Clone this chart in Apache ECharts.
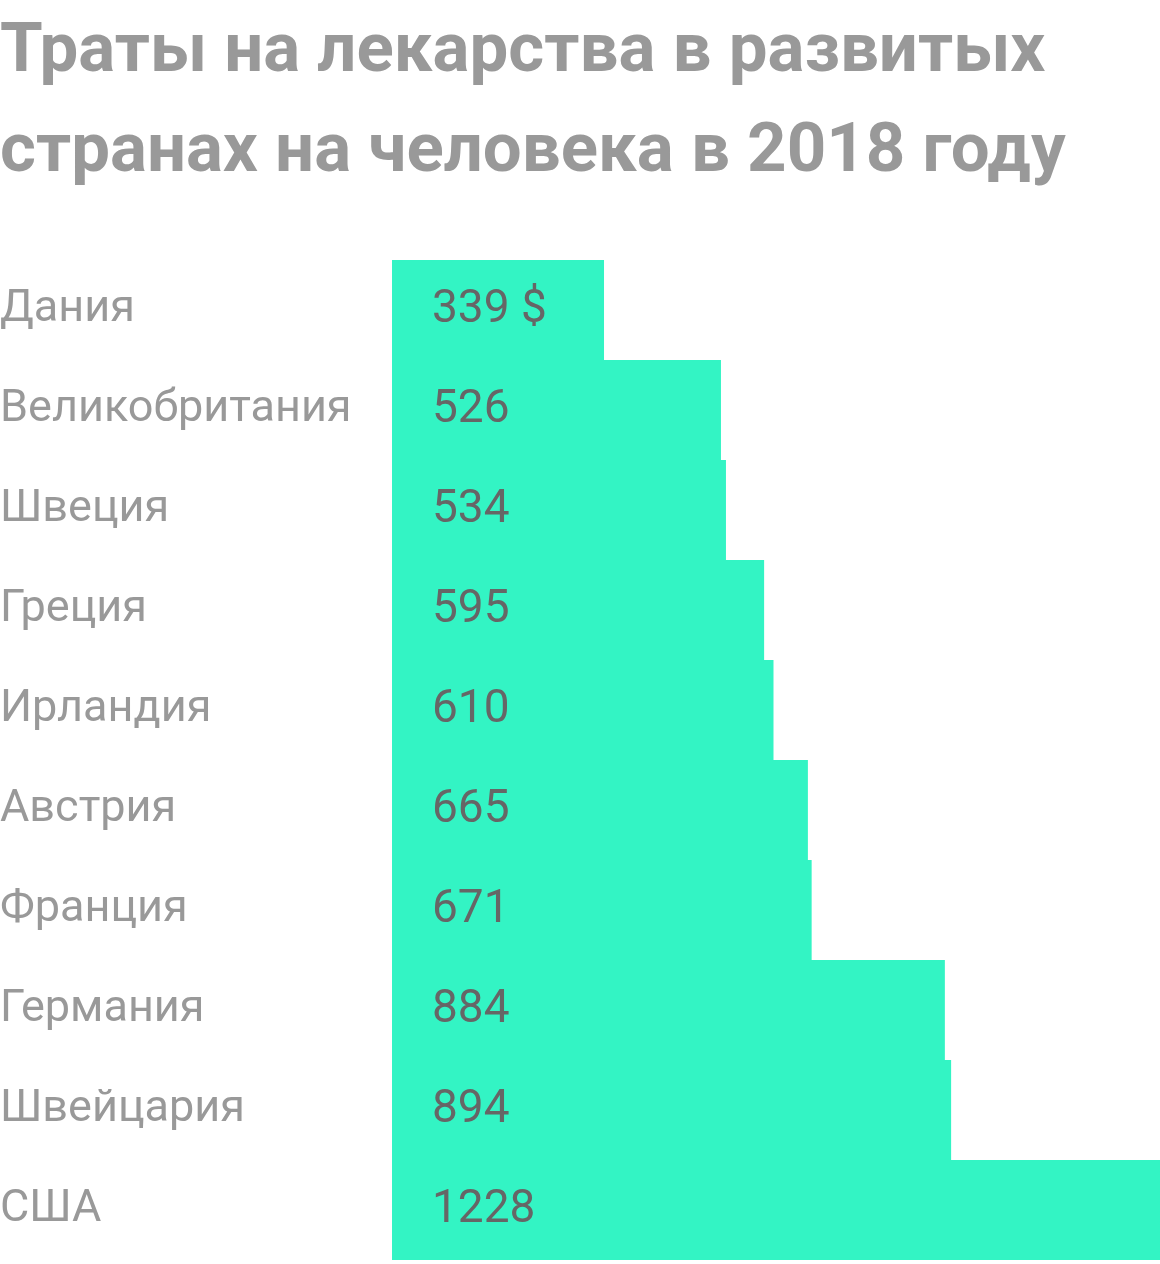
<!DOCTYPE html>
<html>
<head>
<meta charset="utf-8">
<script src="https://cdn.jsdelivr.net/npm/echarts@6/dist/echarts.min.js"></script>
<style>
  html, body { margin: 0; padding: 0; background: #fff; }
  #chart { width: 1160px; height: 1264px; }
</style>
</head>
<body>
<div id="chart"></div>
<script>
var countries = ['Дания', 'Великобритания', 'Швеция', 'Греция', 'Ирландия', 'Австрия', 'Франция', 'Германия', 'Швейцария', 'США'];
var spending = [339, 526, 534, 595, 610, 665, 671, 884, 894, 1228];

var chart = echarts.init(document.getElementById('chart'));
chart.setOption({
    backgroundColor: '#fff',
    animation: false,
    title: {
        text: 'Траты на лекарства в развитых\nстранах на человека в 2018 году',
        left: 0,
        top: 4,
        padding: 0,
        textStyle: {
            fontFamily: 'Roboto',
            fontWeight: 'bold',
            fontSize: 69,
            lineHeight: 100,
            color: '#999'
        }
    },
    grid: { left: 392, right: 0, top: 260, bottom: 4, outerBoundsMode: 'none', containLabel: false },
    xAxis: {
        type: 'value',
        min: 0,
        max: 1228,
        show: false
    },
    yAxis: {
        type: 'category',
        inverse: true,
        data: countries,
        axisLine: { show: false },
        axisTick: { show: false },
        axisLabel: {
            align: 'left',
            margin: 392,
            padding: [8, 0, 0, 0],
            fontFamily: 'Roboto',
            fontSize: 45,
            color: '#999'
        }
    },
    series: [{
        type: 'bar',
        data: spending,
        barCategoryGap: 0,
        itemStyle: { color: '#33F4C4' },
        label: {
            show: true,
            position: 'insideLeft',
            distance: 40,
            padding: [8, 0, 0, 0],
            fontFamily: 'Roboto',
            fontSize: 46,
            color: '#666',
            formatter: function (p) {
                return p.dataIndex === 0 ? p.value + ' $' : String(p.value);
            }
        }
    }]
});
</script>
</body>
</html>
